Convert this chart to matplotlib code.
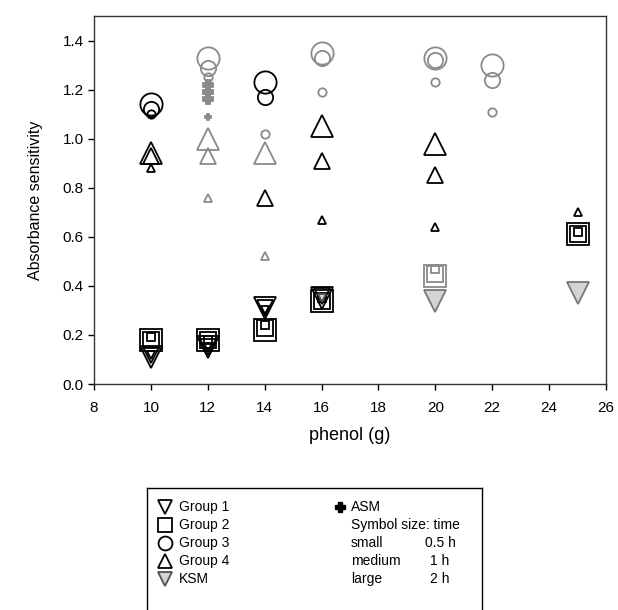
import numpy as np
import matplotlib
matplotlib.use('Agg')
import matplotlib.pyplot as plt

plt.rcParams['font.family'] = ['Liberation Sans', 'DejaVu Sans']

# time (h) -> symbol size
times = [0.5, 1, 2]

# group 1 (open down triangles)
g1_x = [10, 10, 10, 12, 12, 12, 14, 14, 14, 16, 16, 16]
g1_t = [0.5, 1, 2, 0.5, 1, 2, 0.5, 1, 2, 0.5, 1, 2]
g1_y = [0.12, 0.12, 0.11, 0.15, 0.15, 0.15, 0.30, 0.31, 0.31, 0.35, 0.36, 0.35]

# group 2 (open squares)
g2_x = [10, 10, 10, 12, 12, 12, 14, 14, 14, 16, 16, 16, 20, 20, 20, 25, 25, 25]
g2_t = [0.5, 1, 2, 0.5, 1, 2, 0.5, 1, 2, 0.5, 1, 2, 0.5, 1, 2, 0.5, 1, 2]
g2_y = [0.19, 0.18, 0.18, 0.18, 0.18, 0.18, 0.24, 0.23, 0.22, 0.35, 0.34, 0.34,
        0.47, 0.45, 0.44, 0.62, 0.61, 0.61]

# group 3 (open circles)
g3_x = [10, 10, 10, 12, 12, 12, 14, 14, 14, 16, 16, 16, 20, 20, 20, 22, 22, 22]
g3_t = [0.5, 1, 2, 0.5, 1, 2, 0.5, 1, 2, 0.5, 1, 2, 0.5, 1, 2, 0.5, 1, 2]
g3_y = [1.10, 1.12, 1.14, 1.25, 1.29, 1.33, 1.02, 1.17, 1.23, 1.19, 1.33, 1.35,
        1.23, 1.32, 1.33, 1.11, 1.24, 1.30]

# group 4 (open up triangles)
g4_x = [10, 10, 10, 12, 12, 12, 14, 14, 14, 16, 16, 16, 20, 20, 20, 25]
g4_t = [0.5, 1, 2, 0.5, 1, 2, 0.5, 1, 2, 0.5, 1, 2, 0.5, 1, 2, 0.5]
g4_y = [0.88, 0.93, 0.94, 0.76, 0.93, 1.00, 0.52, 0.76, 0.94, 0.67, 0.91, 1.05,
        0.64, 0.85, 0.98, 0.70]

# KSM (grey down triangles)
ksm_x = [16, 20, 20, 20, 25, 25]
ksm_t = [0.5, 0.5, 1, 2, 1, 2]
ksm_y = [0.35, 0.35, 0.34, 0.34, 0.37, 0.37]

# ASM (plus)
asm_x = [12, 12, 12, 12]
asm_t = [0.5, 1, 1, 1]
asm_y = [1.09, 1.16, 1.19, 1.22]

x_ticks = [8, 10, 12, 14, 16, 18, 20, 22, 24, 26]
y_ticks = [0.0, 0.2, 0.4, 0.6, 0.8, 1.0, 1.2, 1.4]

size_of = {0.5: 6, 1: 11, 2: 16}
asm_size = {0.5: 4, 1: 6.5, 2: 8}
# points that look washed out in the original scan
faded = {('g1', 20), ('g2', 20), ('g3', 12), ('g3', 16), ('g3', 20), ('g3', 22),
         ('g4', 12), ('asm', 12), ('ksm', 20), ('ksm', 25)}
faded_small = {('g3', 14), ('g4', 14)}


def draw(ax, key, xs, ys, ts, marker, face='none'):
    for x, y, t in zip(xs, ys, ts):
        col = 'black'
        if (key, x) in faded or ((key, x) in faded_small and t == 0.5) \
                or ((key, x) in faded_small and t == 2 and key == 'g4'):
            col = '#8a8a8a'
        fc = face
        ms = size_of[t]
        if key == 'ksm':
            fc = '#d4d4d4'
            col = '#505050' if col == 'black' else '#777777'
        if key == 'asm':
            fc = col
            ms = asm_size[t]
        ax.plot(x, y, marker=marker, ms=ms, mfc=fc, mec=col,
                mew=1.3, ls='none', clip_on=False)


fig = plt.figure(figsize=(6.18, 6.1), dpi=100)
ax = fig.add_axes([94 / 618, 1 - 384 / 610, 512 / 618, 368 / 610])

draw(ax, 'g3', g3_x, g3_y, g3_t, 'o')
draw(ax, 'g4', g4_x, g4_y, g4_t, '^')
draw(ax, 'g2', g2_x, g2_y, g2_t, 's')
draw(ax, 'g1', g1_x, g1_y, g1_t, 'v')
draw(ax, 'ksm', ksm_x, ksm_y, ksm_t, 'v')
draw(ax, 'asm', asm_x, asm_y, asm_t, 'P')

ax.set_xlim(8, 26)
ax.set_ylim(0, 1.5)
ax.set_xticks(x_ticks)
ax.set_yticks(y_ticks)
ax.set_yticklabels([f'{v:.1f}' for v in y_ticks])
ax.tick_params(direction='out', length=4, width=1, labelsize=11,
               top=False, right=False)
ax.tick_params(axis='x', pad=8)
for s in ax.spines.values():
    s.set_linewidth(1)
    s.set_color('#333333')
ax.set_xlabel('phenol (g)', fontsize=13, labelpad=9)
ax.set_ylabel('Absorbance sensitivity', fontsize=11.5, labelpad=14)

# legend box (bottom edge runs off the image)
lg = fig.add_axes([147 / 618, -10 / 610, 335 / 618, 132 / 610])
lg.set_xlim(147, 482)
lg.set_ylim(620, 488)
lg.set_xticks([])
lg.set_yticks([])
for s in lg.spines.values():
    s.set_linewidth(1)

rows = [507, 525, 543, 561, 579]
left_items = [('v', 'Group 1', 'none', 'black'), ('s', 'Group 2', 'none', 'black'),
              ('o', 'Group 3', 'none', 'black'), ('^', 'Group 4', 'none', 'black'),
              ('v', 'KSM', '#d4d4d4', '#505050')]
for yy, (m, lab, fc, ec) in zip(rows, left_items):
    lg.plot(165, yy, marker=m, ms=10, mfc=fc, mec=ec, mew=1.3, ls='none')
    lg.text(179, yy, lab, fontsize=10, va='center', ha='left')

lg.plot(340, rows[0], marker='P', ms=6.5, mfc='black', mec='black', ls='none')
lg.text(351, rows[0], 'ASM', fontsize=10, va='center')
lg.text(351, rows[1], 'Symbol size: time', fontsize=10, va='center')
for yy, lab, tt in zip(rows[2:], ['small', 'medium', 'large'], times):
    lg.text(351, yy, lab, fontsize=10, va='center')
    lg.text(440, yy, f'{tt:g} h', fontsize=10, va='center', ha='center')

fig.savefig('out.png', dpi=100)
